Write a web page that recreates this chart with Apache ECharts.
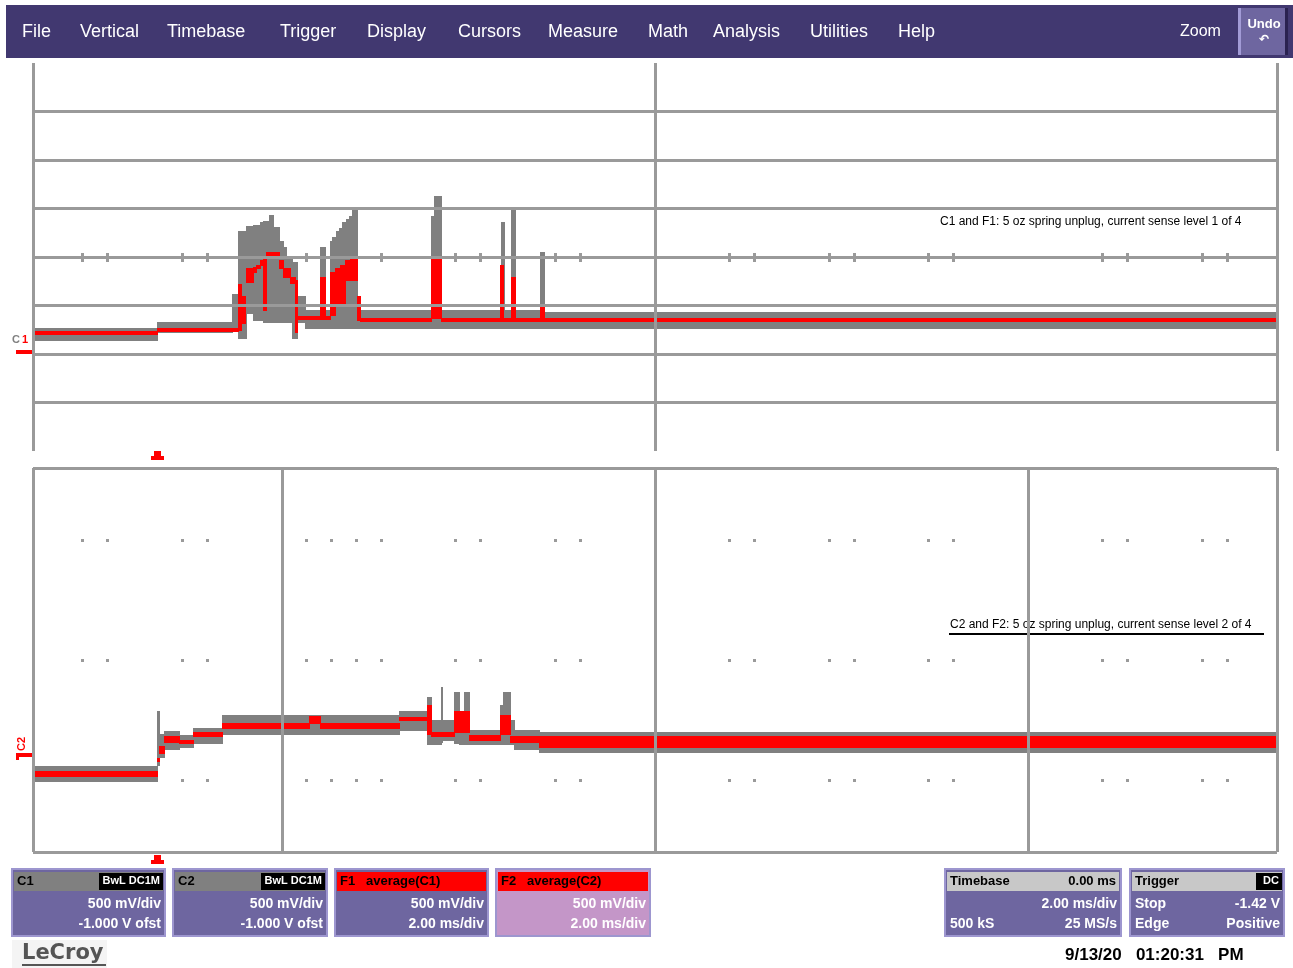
<!DOCTYPE html>
<html>
<head>
<meta charset="utf-8">
<script src="https://cdn.jsdelivr.net/npm/echarts@6/dist/echarts.min.js"></script>
<style>
html,body{margin:0;padding:0;background:#fff;}
#chart{width:1293px;height:968px;}
</style>
</head>
<body>
<div id="chart"></div>
<script>
// ---------- DATA (x in divisions 0..10, y in divisions) ----------
// C1 raw envelope: [xStart, xEnd, min, max]
const c1Envelope = [
  [0,1.0,2.28,2.53],[1.0,1.6,2.45,2.65],[1.6,1.65,2.49,3.23],[1.65,1.72,2.32,4.52],
  [1.72,1.77,2.84,4.62],[1.77,1.825,2.70,4.64],[1.825,1.85,2.70,4.71],[1.85,1.905,2.65,4.73],
  [1.905,1.93,2.65,4.85],[1.93,1.985,2.65,4.60],[1.985,2.01,2.65,4.31],[2.01,2.04,2.65,4.19],
  [2.04,2.09,2.65,4.00],[2.09,2.13,2.32,3.89],[2.13,2.19,2.65,3.18],[2.19,2.315,2.53,2.90],
  [2.315,2.35,2.53,4.19],[2.35,2.395,2.53,2.90],[2.395,2.41,2.53,4.31],[2.41,2.44,2.53,4.41],
  [2.44,2.465,2.53,4.52],[2.465,2.49,2.53,4.58],[2.49,2.52,2.53,4.71],[2.52,2.545,2.53,4.77],
  [2.545,2.57,2.53,4.83],[2.57,2.605,2.53,4.98],[2.605,3.2,2.53,2.90],[3.2,3.225,2.53,4.83],
  [3.225,3.28,2.53,5.24],[3.28,3.77,2.53,2.90],[3.77,3.79,2.53,4.71],[3.79,3.85,2.53,2.90],
  [3.85,3.875,2.53,4.98],[3.875,4.08,2.53,2.90],[4.08,4.11,2.53,4.10],[4.11,10,2.53,2.86]
];
// F1 = average(C1)
const f1Average = [
  [0,1.0,2.40,2.46],[1.0,1.65,2.47,2.53],[1.65,1.675,2.49,3.44],[1.675,1.705,2.63,3.18],
  [1.72,1.77,3.48,3.77],[1.77,1.80,3.69,3.79],[1.80,1.825,3.77,3.83],[1.825,1.85,3.83,3.92],
  [1.85,1.875,2.90,4.00],[1.875,1.985,4.00,4.10],[1.985,2.01,3.77,3.92],[2.01,2.066,3.58,3.77],
  [2.066,2.114,3.46,3.58],[2.114,2.13,2.45,3.52],[2.13,2.315,2.72,2.78],[2.315,2.35,2.72,3.58],
  [2.35,2.395,2.72,2.78],[2.395,2.43,2.80,3.69],[2.43,2.47,3.01,3.77],[2.47,2.51,3.01,3.83],
  [2.51,2.55,3.52,3.92],[2.55,2.605,3.52,3.98],[2.605,2.63,2.70,3.18],[2.63,3.2,2.67,2.73],
  [3.2,3.28,2.74,3.98],[3.28,3.76,2.67,2.73],[3.76,3.78,2.67,3.83],[3.78,3.85,2.67,2.73],
  [3.85,3.875,2.67,3.58],[3.875,4.08,2.67,2.73],[4.08,4.11,2.67,3.01],[4.11,10,2.67,2.73]
];
// C2 raw envelope
const c2Envelope = [
  [0,1.0,1.46,1.79],[1.0,1.02,1.81,2.92],[1.02,1.06,1.96,2.44],[1.06,1.18,2.125,2.52],
  [1.18,1.29,2.17,2.42],[1.29,1.52,2.27,2.58],[1.52,2.95,2.44,2.85],[2.95,3.17,2.54,2.92],
  [3.17,3.20,2.23,3.21],[3.20,3.28,2.23,2.75],[3.28,3.295,2.29,3.42],[3.295,3.39,2.33,2.75],
  [3.39,3.43,2.27,3.33],[3.43,3.47,2.23,2.70],[3.47,3.505,2.23,3.33],[3.505,3.755,2.23,2.54],
  [3.755,3.78,2.23,3.06],[3.78,3.835,2.23,3.33],[3.835,3.87,2.23,2.75],[3.87,4.075,2.125,2.54],
  [4.075,10,2.08,2.50]
];
// F2 = average(C2)
const f2Average = [
  [0,1.0,1.58,1.67],[1.0,1.02,1.88,1.94],[1.02,1.06,2.06,2.19],[1.06,1.18,2.29,2.40],
  [1.18,1.29,2.25,2.33],[1.29,1.52,2.40,2.48],[1.52,2.22,2.58,2.67],[2.22,2.31,2.67,2.83],
  [2.31,2.95,2.58,2.67],[2.95,3.17,2.73,2.81],[3.17,3.20,2.44,3.06],[3.20,3.39,2.40,2.48],
  [3.39,3.51,2.48,2.92],[3.51,3.755,2.33,2.42],[3.755,3.835,2.44,2.85],[3.835,4.075,2.29,2.40],
  [4.075,10,2.17,2.40]
];
// minor graticule marks (x in divisions)
const minorTickX = [0.4,0.6,1.2,1.4,2.2,2.4,2.6,2.8,3.4,3.6,4.2,4.4,5.6,5.8,6.4,6.6,7.2,7.4,8.6,8.8,9.4,9.6];
const topTickRows = [4];
const bottomTickRows = [6.5,4,1.5];
const topGridX = [0,5,10];
const topGridY = [1,2,3,4,5,6,7];
const bottomGridX = [0,2,5,8,10];
const bottomGridY = [0,8];

const menuItems = ['File','Vertical','Timebase','Trigger','Display','Cursors','Measure','Math','Analysis','Utilities','Help'];
const titleTop = 'C1 and F1: 5 oz spring unplug, current sense level 1 of 4';
const titleBottom = 'C2 and F2: 5 oz spring unplug, current sense level 2 of 4';

// ---------- RENDER ----------
const chart = echarts.init(document.getElementById('chart'), null, {renderer:'canvas'});
const GRID_COLOR = '#9a9a9a';

function bandItem(params, api){
  const a = api.coord([api.value(0), api.value(3)]);
  const b = api.coord([api.value(1), api.value(2)]);
  const x0 = Math.floor(a[0]), x1 = Math.ceil(b[0]);
  const y0 = Math.floor(a[1]), y1 = Math.ceil(b[1]);
  return {type:'rect', shape:{x:x0, y:y0, width:Math.max(x1-x0,2), height:Math.max(y1-y0,2)},
          style:{fill: api.visual('color')}};
}
function tickRenderer(w,h){
  return function(params, api){
    const p = api.coord([api.value(0), api.value(1)]);
    return {type:'rect', shape:{x:Math.round(p[0]-w/2), y:Math.round(p[1]-h/2), width:w, height:h}, style:{fill:GRID_COLOR}};
  };
}
function pairs(xs, ys){ const out=[]; ys.forEach(y=>xs.forEach(x=>out.push([x,y]))); return out; }
function gridLineSeries(idx, xs, ys){
  return {type:'line', xAxisIndex:idx, yAxisIndex:idx, data:[], z:1, silent:true,
    markLine:{silent:true, symbol:'none', label:{show:false}, animation:false,
      lineStyle:{color:GRID_COLOR, width:3, type:'solid'},
      data: xs.map(v=>({xAxis:v})).concat(ys.map(v=>({yAxis:v})))}};
}
const axisBase = {type:'value', axisLine:{show:false}, axisTick:{show:false}, axisLabel:{show:false}, splitLine:{show:false}};

const BOX_FONT = 'bold 14px "Liberation Sans"';
// bottom info boxes
function infoBox(x, w, headColor, bodyColor, headLeft, headRight, tag, rows){
  const els = [];
  const y = 869, h = 67;
  els.push({type:'rect', shape:{x:x, y:y, width:w, height:h}, style:{fill:bodyColor, stroke:'#9d96cf', lineWidth:2}});
  els.push({type:'rect', shape:{x:x+2, y:y+3, width:w-4, height:19}, style:{fill:headColor}});
  els.push({type:'text', x:x+5, y:y+12, style:{text:headLeft, fill:'#000', font:'bold 13px "Liberation Sans"', textVerticalAlign:'middle'}});
  if(headRight){
    els.push({type:'text', x:x+w-5, y:y+12, style:{text:headRight, fill:'#000', font:'bold 13px "Liberation Sans"', textAlign:'right', textVerticalAlign:'middle'}});
  }
  if(tag){
    els.push({type:'rect', shape:{x:x+w-2-tag.w, y:y+4, width:tag.w, height:17}, style:{fill:'#000'}});
    els.push({type:'text', x:x+w-5, y:y+12, style:{text:tag.t, fill:'#fff', font:'bold 11px "Liberation Sans"', textAlign:'right', textVerticalAlign:'middle'}});
  }
  rows.forEach((r,i)=>{
    const ty = y + 35 + i*20;
    if(r[0]) els.push({type:'text', x:x+5, y:ty, style:{text:r[0], fill:'#fff', font:BOX_FONT, textVerticalAlign:'middle'}});
    if(r[1]) els.push({type:'text', x:x+w-4, y:ty, style:{text:r[1], fill:'#fff', font:BOX_FONT, textAlign:'right', textVerticalAlign:'middle'}});
  });
  return els;
}

const graphic = [];
// menu bar
graphic.push({type:'rect', shape:{x:6, y:5, width:1287, height:53}, style:{fill:'#413870'}});
const menuX = [22,80,167,280,367,458,548,648,713,810,898];
menuItems.forEach((m,i)=>graphic.push({type:'text', x:menuX[i], y:32,
  style:{text:m, fill:'#fff', font:'18px "Liberation Sans"', textVerticalAlign:'middle'}}));
graphic.push({type:'text', x:1180, y:32, style:{text:'Zoom', fill:'#fff', font:'16px "Liberation Sans"', textVerticalAlign:'middle'}});
graphic.push({type:'rect', shape:{x:1238, y:8, width:50, height:47}, style:{fill:'#6e66a0'}});
graphic.push({type:'rect', shape:{x:1238, y:8, width:3, height:47}, style:{fill:'#a29bd6'}});
graphic.push({type:'rect', shape:{x:1285, y:8, width:3, height:47}, style:{fill:'#2a2250'}});
graphic.push({type:'text', x:1264, y:24, style:{text:'Undo', fill:'#fff', font:'bold 13px "Liberation Sans"', textAlign:'center', textVerticalAlign:'middle'}});
graphic.push({type:'text', x:1264, y:40, style:{text:'↶', fill:'#fff', font:'bold 12px "DejaVu Sans"', textAlign:'center', textVerticalAlign:'middle'}});

// annotations
graphic.push({type:'text', x:940, y:222, style:{text:titleTop, fill:'#000', font:'12px "Liberation Sans"', textVerticalAlign:'middle'}});
graphic.push({type:'text', x:950, y:625, style:{text:titleBottom, fill:'#000', font:'12px "Liberation Sans"', textVerticalAlign:'middle'}});
graphic.push({type:'rect', shape:{x:949, y:633, width:315, height:2}, style:{fill:'#000'}});

// channel markers
graphic.push({type:'text', x:12, y:340, style:{text:'C', fill:'#808080', font:'bold 11px "Liberation Sans"', textVerticalAlign:'middle'}});
graphic.push({type:'text', x:22, y:340, style:{text:'1', fill:'#ff0000', font:'bold 11px "Liberation Sans"', textVerticalAlign:'middle'}});
graphic.push({type:'rect', shape:{x:16, y:350, width:16, height:4}, style:{fill:'#ff0000'}});
graphic.push({type:'text', x:22, y:744, rotation:Math.PI/2, style:{text:'C2', fill:'#ff0000', font:'bold 11px "Liberation Sans"', textAlign:'center', textVerticalAlign:'middle'}});
graphic.push({type:'rect', shape:{x:16, y:753, width:16, height:4}, style:{fill:'#ff0000'}});
graphic.push({type:'rect', shape:{x:16, y:753, width:3, height:7}, style:{fill:'#ff0000'}});
// trigger markers
[451, 855].forEach(ty=>{
  graphic.push({type:'polygon', shape:{points:[[154,ty],[161,ty],[161,ty+5],[164,ty+5],[164,ty+9],[151,ty+9],[151,ty+5],[154,ty+5]]}, style:{fill:'#ff0000'}});
});

// info boxes
[].concat(
  infoBox(12,153,'#808080','#6e66a0','C1',null,{t:'BwL DC1M',w:64},[[ '', '500 mV/div'],['','-1.000 V ofst']]),
  infoBox(173,154,'#808080','#6e66a0','C2',null,{t:'BwL DC1M',w:64},[[ '', '500 mV/div'],['','-1.000 V ofst']]),
  infoBox(335,153,'#ff0000','#6e66a0','F1   average(C1)',null,null,[[ '', '500 mV/div'],['','2.00 ms/div']]),
  infoBox(496,154,'#ff0000','#c496c8','F2   average(C2)',null,null,[[ '', '500 mV/div'],['','2.00 ms/div']]),
  infoBox(945,176,'#c8c8c8','#6e66a0','Timebase','0.00 ms',null,[[ '', '2.00 ms/div'],['500 kS','25 MS/s']]),
  infoBox(1130,154,'#c8c8c8','#6e66a0','Trigger',null,{t:'DC',w:26},[[ 'Stop', '-1.42 V'],['Edge','Positive']])
).forEach(e=>graphic.push(e));

// logo + date
graphic.push({type:'rect', shape:{x:12, y:940, width:95, height:28}, style:{fill:'#f4f4f4'}});
graphic.push({type:'text', x:22, y:954, style:{text:'LeCroy', fill:'#555', font:'bold 21px "DejaVu Sans"', textVerticalAlign:'middle'}});
graphic.push({type:'rect', shape:{x:22, y:964, width:84, height:2}, style:{fill:'#555'}});
graphic.push({type:'text', x:1065, y:955, style:{text:'9/13/20   01:20:31   PM', fill:'#000', font:'bold 17px "Liberation Sans"', textVerticalAlign:'middle'}});

const option = {
  backgroundColor:'#ffffff',
  animation:false,
  grid:[
    {left:33, top:63, width:1244, height:388},
    {left:33, top:468, width:1244, height:384}
  ],
  xAxis:[
    Object.assign({}, axisBase, {gridIndex:0, min:0, max:10, interval:1}),
    Object.assign({}, axisBase, {gridIndex:1, min:0, max:10, interval:1})
  ],
  yAxis:[
    Object.assign({}, axisBase, {gridIndex:0, min:0, max:8, interval:1}),
    Object.assign({}, axisBase, {gridIndex:1, min:0, max:8, interval:1})
  ],
  graphic: graphic,
  series:[
    gridLineSeries(0, topGridX, topGridY),
    gridLineSeries(1, bottomGridX, bottomGridY),
    {type:'custom', name:'ticksTop', xAxisIndex:0, yAxisIndex:0, z:2, silent:true,
      renderItem:tickRenderer(3,9), data:pairs(minorTickX, topTickRows), encode:{x:0,y:1}},
    {type:'custom', name:'ticksBottom', xAxisIndex:1, yAxisIndex:1, z:2, silent:true,
      renderItem:tickRenderer(3,3), data:pairs(minorTickX, bottomTickRows), encode:{x:0,y:1}},
    {type:'custom', name:'C1', xAxisIndex:0, yAxisIndex:0, z:3, silent:true, clip:true,
      itemStyle:{color:'#808080'}, renderItem:bandItem, data:c1Envelope, encode:{x:[0,1], y:[2,3]}},
    {type:'custom', name:'F1', xAxisIndex:0, yAxisIndex:0, z:4, silent:true, clip:true,
      itemStyle:{color:'#ff0000'}, renderItem:bandItem, data:f1Average, encode:{x:[0,1], y:[2,3]}},
    {type:'custom', name:'C2', xAxisIndex:1, yAxisIndex:1, z:3, silent:true, clip:true,
      itemStyle:{color:'#808080'}, renderItem:bandItem, data:c2Envelope, encode:{x:[0,1], y:[2,3]}},
    {type:'custom', name:'F2', xAxisIndex:1, yAxisIndex:1, z:4, silent:true, clip:true,
      itemStyle:{color:'#ff0000'}, renderItem:bandItem, data:f2Average, encode:{x:[0,1], y:[2,3]}}
  ]
};
chart.setOption(option);
</script>
</body>
</html>
